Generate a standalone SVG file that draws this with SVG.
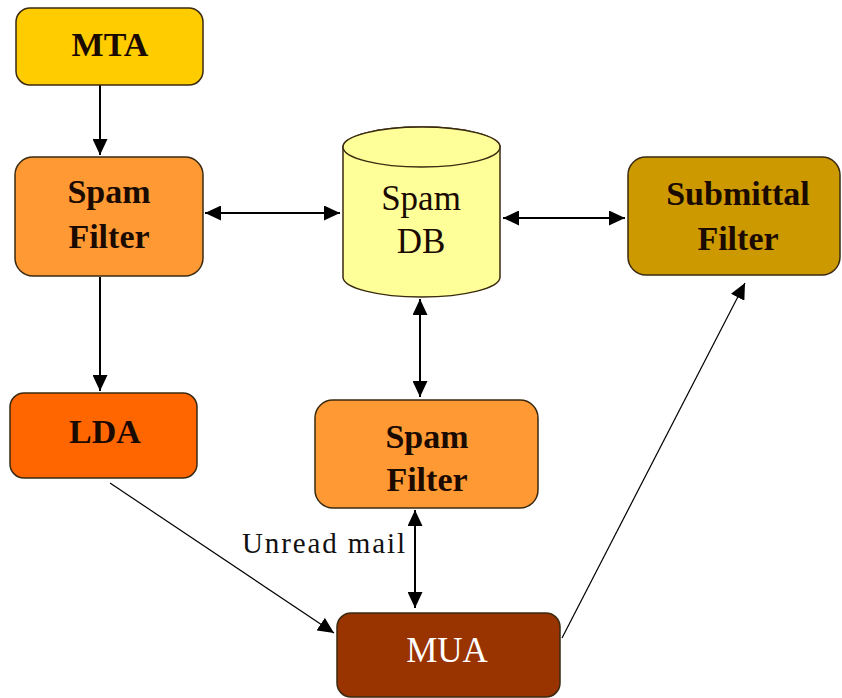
<svg xmlns="http://www.w3.org/2000/svg" width="842" height="698" viewBox="0 0 842 698">
<style>
.box{stroke:#3a2a10;stroke-width:1.5}
.t{font-family:"Liberation Serif",serif;font-size:34px;font-weight:bold;fill:#1a0a00;text-anchor:middle}
.tr{font-family:"Liberation Serif",serif;font-size:35px;fill:#1a0a00;text-anchor:middle}
.lbl{font-family:"Liberation Serif",serif;font-size:29px;fill:#111}
.c{stroke:#000;stroke-width:2;fill:none}
.thin{stroke:#000;stroke-width:1.2;fill:none}
</style>
<defs>
<marker id="ah" viewBox="0 0 10 10" refX="10" refY="5" markerWidth="16" markerHeight="15" markerUnits="userSpaceOnUse" orient="auto-start-reverse" preserveAspectRatio="none">
<path d="M0,0 L10,5 L0,10 Z" fill="#000"/>
</marker>
</defs>
<rect width="842" height="698" fill="#fff"/>
<g id="connectors">
<line class="c" x1="100" y1="85" x2="100" y2="155" marker-end="url(#ah)"/>
<line class="c" x1="205" y1="213" x2="340" y2="213" marker-start="url(#ah)" marker-end="url(#ah)"/>
<line class="c" x1="503" y1="218" x2="625" y2="218" marker-start="url(#ah)" marker-end="url(#ah)"/>
<line class="c" x1="100" y1="277" x2="100" y2="391" marker-end="url(#ah)"/>
<line class="c" x1="420" y1="299" x2="420" y2="397" marker-start="url(#ah)" marker-end="url(#ah)"/>
<line class="c" x1="415" y1="510" x2="415" y2="608" marker-start="url(#ah)" marker-end="url(#ah)"/>
<line class="thin" x1="110" y1="483" x2="334" y2="633" marker-end="url(#ah)"/>
<line class="thin" x1="562" y1="638" x2="745" y2="283" marker-end="url(#ah)"/>
<text class="lbl" x="242" y="553" textLength="163">Unread mail</text>
</g>
<g id="mta">
<rect class="box" x="16" y="8" width="187" height="77" rx="14" fill="#ffcc00"/>
<text class="t" x="110" y="56">MTA</text>
</g>
<g id="spamfilter1">
<rect class="box" x="15" y="157" width="188" height="119" rx="18" fill="#ff9933"/>
<text class="t" x="109" y="203">Spam</text>
<text class="t" x="109" y="248">Filter</text>
</g>
<g id="spamdb">
<path class="box" d="M343,147 L343,277 A78.5,20 0 0 0 500,277 L500,147 A78.5,20 0 0 0 343,147 Z" fill="#ffff99"/>
<ellipse class="box" cx="421.5" cy="147" rx="78.5" ry="20" fill="#ffff99"/>
<text class="tr" x="421" y="210">Spam</text>
<text class="tr" x="421" y="253">DB</text>
</g>
<g id="submittal">
<rect class="box" x="628" y="157" width="212" height="118" rx="18" fill="#cc9900"/>
<text class="t" x="738" y="205">Submittal</text>
<text class="t" x="738" y="250">Filter</text>
</g>
<g id="lda">
<rect class="box" x="10" y="393" width="187" height="85" rx="14" fill="#ff6600"/>
<text class="t" x="105" y="443">LDA</text>
</g>
<g id="spamfilter2">
<rect class="box" x="315" y="400" width="223" height="108" rx="18" fill="#ff9933"/>
<text class="t" x="427" y="448">Spam</text>
<text class="t" x="427" y="491">Filter</text>
</g>
<g id="mua">
<rect class="box" x="337" y="613" width="223" height="84" rx="14" fill="#993300"/>
<text class="tr" x="447" y="662" style="fill:#fff">MUA</text>
</g>
</svg>
